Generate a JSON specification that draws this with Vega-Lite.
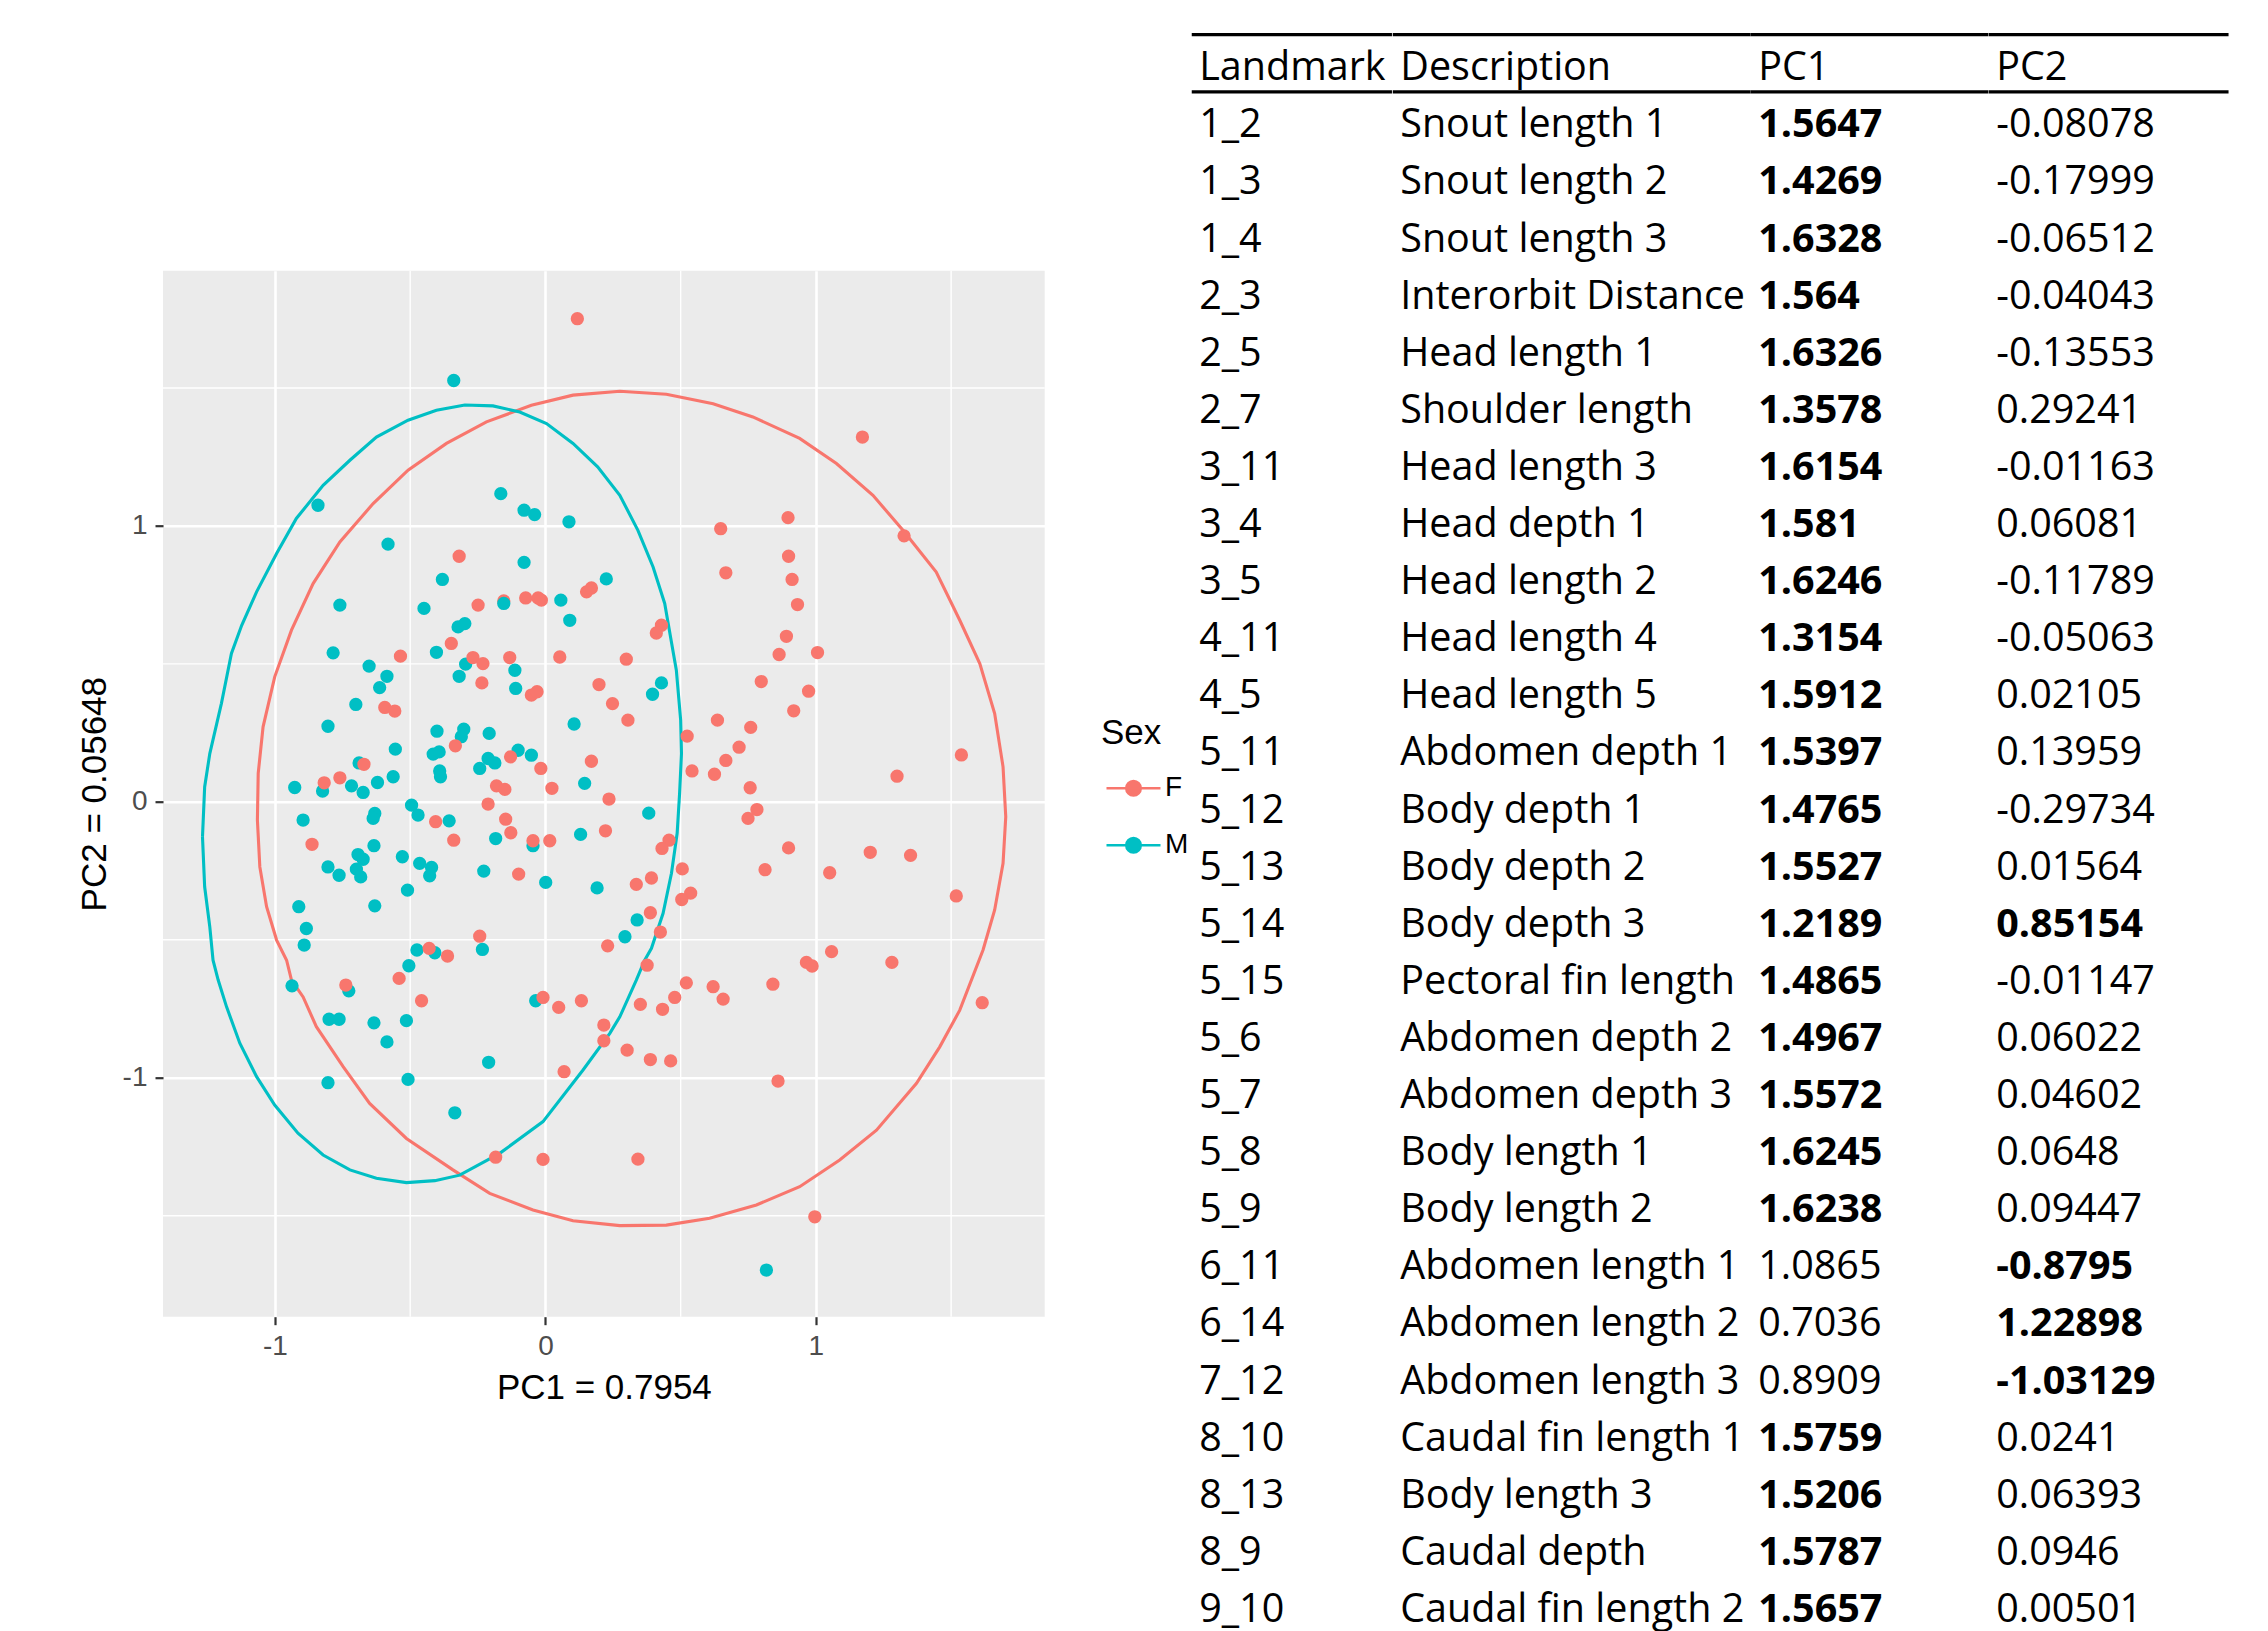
{
"$schema": "https://vega.github.io/schema/vega-lite/v6.json",
"padding": {"left": 77, "top": 32.7, "right": 0, "bottom": 0},
"spacing": 143.75,
"config": {
  "view": {"stroke": null},
  "font": "Liberation Sans",
  "axis": {"grid": true, "gridColor": "white", "gridWidth": 2.6, "domain": false, "tickColor": "#333333", "tickWidth": 2.2, "tickSize": 8, "labelFont": "Liberation Sans", "labelFontSize": 28, "labelColor": "#4D4D4D", "labelPadding": 8, "titleFont": "Liberation Sans", "titleFontSize": 35, "titleFontWeight": "normal", "titleColor": "black"},
  "axisX": {"titlePadding": 10},
  "axisY": {"titlePadding": 10}
},
"datasets": {
  "pts": [
    {"s":"F","x":0.118,"y":1.751},{"s":"F","x":-0.319,"y":0.890},{"s":"F","x":0.152,"y":0.761},{"s":"F","x":0.170,"y":0.775},{"s":"F","x":-0.249,"y":0.713},{"s":"F","x":-0.154,"y":0.728},{"s":"F","x":-0.073,"y":0.739},{"s":"F","x":-0.027,"y":0.739},{"s":"F","x":-0.015,"y":0.731},
    {"s":"F","x":1.172,"y":1.322},{"s":"F","x":0.897,"y":1.030},{"s":"F","x":0.648,"y":0.990},{"s":"F","x":1.326,"y":0.964},{"s":"F","x":0.899,"y":0.890},{"s":"F","x":0.667,"y":0.830},{"s":"F","x":0.912,"y":0.806},{"s":"F","x":0.932,"y":0.715},
    {"s":"F","x":0.429,"y":0.640},{"s":"F","x":0.410,"y":0.612},{"s":"F","x":0.891,"y":0.600},{"s":"F","x":0.864,"y":0.534},{"s":"F","x":1.006,"y":0.541},{"s":"F","x":0.299,"y":0.517},{"s":"F","x":0.798,"y":0.436},{"s":"F","x":0.973,"y":0.401},{"s":"F","x":0.918,"y":0.330},{"s":"F","x":0.248,"y":0.356},{"s":"F","x":0.305,"y":0.296},{"s":"F","x":0.636,"y":0.296},{"s":"F","x":0.759,"y":0.270},{"s":"F","x":0.524,"y":0.238},{"s":"F","x":0.716,"y":0.198},{"s":"F","x":0.667,"y":0.150},{"s":"F","x":0.542,"y":0.112},{"s":"F","x":0.625,"y":0.100},{"s":"F","x":1.538,"y":0.170},{"s":"F","x":1.300,"y":0.093},{"s":"F","x":0.757,"y":0.051},{"s":"F","x":0.235,"y":0.010},{"s":"F","x":0.782,"y":-0.028},{"s":"F","x":0.749,"y":-0.060},{"s":"F","x":0.222,"y":-0.105},{"s":"F","x":0.457,"y":-0.139},{"s":"F","x":0.431,"y":-0.169},{"s":"F","x":0.899,"y":-0.167},{"s":"F","x":1.201,"y":-0.183},{"s":"F","x":1.350,"y":-0.194},{"s":"F","x":0.506,"y":-0.243},{"s":"F","x":0.812,"y":-0.246},{"s":"F","x":1.051,"y":-0.257},{"s":"F","x":0.392,"y":-0.276},{"s":"F","x":0.336,"y":-0.299},{"s":"F","x":0.537,"y":-0.331},{"s":"F","x":0.504,"y":-0.354},{"s":"F","x":1.519,"y":-0.341},{"s":"F","x":0.388,"y":-0.402},{"s":"F","x":0.425,"y":-0.472},{"s":"F","x":0.230,"y":-0.522},{"s":"F","x":0.376,"y":-0.592},{"s":"F","x":1.058,"y":-0.543},{"s":"F","x":0.965,"y":-0.582},{"s":"F","x":0.986,"y":-0.595},{"s":"F","x":1.281,"y":-0.582},
    {"s":"F","x":0.521,"y":-0.656},{"s":"F","x":0.620,"y":-0.670},{"s":"F","x":0.657,"y":-0.715},{"s":"F","x":0.841,"y":-0.661},{"s":"F","x":0.478,"y":-0.709},{"s":"F","x":0.351,"y":-0.734},{"s":"F","x":0.433,"y":-0.752},{"s":"F","x":1.615,"y":-0.728},{"s":"F","x":0.216,"y":-0.809},{"s":"F","x":0.216,"y":-0.866},{"s":"F","x":0.302,"y":-0.900},{"s":"F","x":0.388,"y":-0.934},{"s":"F","x":0.463,"y":-0.939},{"s":"F","x":0.860,"y":-1.012},{"s":"F","x":0.342,"y":-1.295},{"s":"F","x":0.996,"y":-1.504},
    {"s":"M","x":-0.339,"y":1.527},{"s":"M","x":-0.165,"y":1.117},{"s":"M","x":-0.079,"y":1.057},{"s":"M","x":-0.040,"y":1.041},{"s":"M","x":0.087,"y":1.015},{"s":"M","x":-0.841,"y":1.075},{"s":"M","x":-0.582,"y":0.934},{"s":"M","x":-0.079,"y":0.868},{"s":"M","x":-0.381,"y":0.806},{"s":"M","x":0.225,"y":0.808},{"s":"M","x":-0.760,"y":0.713},{"s":"M","x":-0.449,"y":0.701},{"s":"M","x":-0.154,"y":0.719},{"s":"M","x":0.057,"y":0.731},{"s":"M","x":0.090,"y":0.658},{"s":"M","x":-0.323,"y":0.634},{"s":"M","x":-0.298,"y":0.646},
    {"s":"M","x":0.429,"y":0.431},{"s":"M","x":0.396,"y":0.390},{"s":"M","x":0.382,"y":-0.041},{"s":"M","x":0.339,"y":-0.428},{"s":"M","x":0.294,"y":-0.489},{"s":"M","x":0.817,"y":-1.697},
    {"s":"M","x":-0.785,"y":0.540},{"s":"M","x":-0.652,"y":0.492},{"s":"M","x":-0.403,"y":0.542},{"s":"M","x":-0.586,"y":0.455},{"s":"M","x":-0.613,"y":0.414},{"s":"M","x":-0.701,"y":0.353},{"s":"M","x":-0.804,"y":0.274},{"s":"M","x":-0.295,"y":0.499},{"s":"M","x":-0.319,"y":0.455},{"s":"M","x":-0.113,"y":0.477},{"s":"M","x":-0.110,"y":0.411},{"s":"M","x":0.106,"y":0.282},{"s":"M","x":-0.401,"y":0.256},{"s":"M","x":-0.302,"y":0.263},{"s":"M","x":-0.311,"y":0.236},{"s":"M","x":-0.208,"y":0.248},{"s":"M","x":-0.555,"y":0.191},{"s":"M","x":-0.415,"y":0.173},{"s":"M","x":-0.393,"y":0.181},{"s":"M","x":-0.689,"y":0.141},{"s":"M","x":-0.824,"y":0.039},{"s":"M","x":-0.927,"y":0.052},{"s":"M","x":-0.717,"y":0.058},{"s":"M","x":-0.674,"y":0.034},{"s":"M","x":-0.621,"y":0.070},{"s":"M","x":-0.563,"y":0.091},{"s":"M","x":-0.391,"y":0.112},{"s":"M","x":-0.388,"y":0.091},{"s":"M","x":-0.243,"y":0.121},{"s":"M","x":-0.212,"y":0.157},{"s":"M","x":-0.187,"y":0.141},{"s":"M","x":-0.101,"y":0.187},{"s":"M","x":-0.052,"y":0.169},{"s":"M","x":0.145,"y":0.067},{"s":"M","x":-0.495,"y":-0.012},{"s":"M","x":-0.471,"y":-0.048},{"s":"M","x":-0.631,"y":-0.042},{"s":"M","x":-0.637,"y":-0.060},{"s":"M","x":-0.896,"y":-0.066},{"s":"M","x":-0.356,"y":-0.069},{"s":"M","x":-0.184,"y":-0.133},{"s":"M","x":-0.046,"y":-0.159},{"s":"M","x":0.130,"y":-0.118},{"s":"M","x":-0.634,"y":-0.159},{"s":"M","x":-0.693,"y":-0.191},{"s":"M","x":-0.674,"y":-0.208},{"s":"M","x":-0.804,"y":-0.236},{"s":"M","x":-0.763,"y":-0.266},{"s":"M","x":-0.699,"y":-0.244},{"s":"M","x":-0.683,"y":-0.272},{"s":"M","x":-0.529,"y":-0.199},{"s":"M","x":-0.465,"y":-0.223},{"s":"M","x":-0.421,"y":-0.238},{"s":"M","x":-0.428,"y":-0.268},{"s":"M","x":-0.510,"y":-0.320},{"s":"M","x":-0.631,"y":-0.377},{"s":"M","x":-0.228,"y":-0.251},{"s":"M","x":0.001,"y":-0.292},{"s":"M","x":0.191,"y":-0.312},{"s":"M","x":-0.912,"y":-0.380},{"s":"M","x":-0.884,"y":-0.459},{"s":"M","x":-0.892,"y":-0.519},{"s":"M","x":-0.233,"y":-0.535},{"s":"M","x":-0.475,"y":-0.537},{"s":"M","x":-0.409,"y":-0.547},{"s":"M","x":-0.505,"y":-0.594},
    {"s":"M","x":-0.937,"y":-0.667},{"s":"M","x":-0.727,"y":-0.685},{"s":"M","x":-0.800,"y":-0.788},{"s":"M","x":-0.763,"y":-0.788},{"s":"M","x":-0.634,"y":-0.801},{"s":"M","x":-0.514,"y":-0.793},{"s":"M","x":-0.586,"y":-0.870},{"s":"M","x":-0.036,"y":-0.721},{"s":"M","x":-0.210,"y":-0.944},{"s":"M","x":-0.804,"y":-1.018},{"s":"M","x":-0.508,"y":-1.006},{"s":"M","x":-0.335,"y":-1.127},
    {"s":"F","x":-0.536,"y":0.528},{"s":"F","x":-0.348,"y":0.574},{"s":"F","x":-0.594,"y":0.342},{"s":"F","x":-0.557,"y":0.329},{"s":"F","x":-0.268,"y":0.523},{"s":"F","x":-0.231,"y":0.501},{"s":"F","x":-0.235,"y":0.431},{"s":"F","x":-0.132,"y":0.523},{"s":"F","x":-0.052,"y":0.387},{"s":"F","x":-0.031,"y":0.399},{"s":"F","x":0.053,"y":0.525},{"s":"F","x":0.198,"y":0.425},{"s":"F","x":-0.333,"y":0.203},{"s":"F","x":-0.671,"y":0.136},{"s":"F","x":-0.760,"y":0.087},{"s":"F","x":-0.818,"y":0.069},{"s":"F","x":-0.129,"y":0.163},{"s":"F","x":-0.017,"y":0.121},{"s":"F","x":0.170,"y":0.147},{"s":"F","x":-0.181,"y":0.058},{"s":"F","x":-0.150,"y":0.045},{"s":"F","x":0.024,"y":0.049},{"s":"F","x":-0.212,"y":-0.008},{"s":"F","x":-0.147,"y":-0.063},{"s":"F","x":-0.406,"y":-0.072},{"s":"F","x":-0.339,"y":-0.139},{"s":"F","x":-0.128,"y":-0.112},{"s":"F","x":-0.046,"y":-0.141},{"s":"F","x":0.016,"y":-0.141},{"s":"F","x":-0.863,"y":-0.154},{"s":"F","x":-0.099,"y":-0.262},{"s":"F","x":-0.243,"y":-0.487},{"s":"F","x":-0.430,"y":-0.531},{"s":"F","x":-0.362,"y":-0.559},
    {"s":"F","x":-0.738,"y":-0.664},{"s":"F","x":-0.541,"y":-0.640},{"s":"F","x":-0.458,"y":-0.721},{"s":"F","x":-0.009,"y":-0.709},{"s":"F","x":0.049,"y":-0.745},{"s":"F","x":0.133,"y":-0.721},{"s":"F","x":0.069,"y":-0.978},{"s":"F","x":-0.184,"y":-1.288},{"s":"F","x":-0.009,"y":-1.296}
  ],
  "ell": [
    {"s":"F","i":1,"x":-1.065,"y":-0.066},{"s":"F","i":2,"x":-1.062,"y":0.103},{"s":"F","i":3,"x":-1.044,"y":0.272},{"s":"F","i":4,"x":-1.001,"y":0.453},{"s":"F","i":5,"x":-0.939,"y":0.622},{"s":"F","i":6,"x":-0.859,"y":0.791},{"s":"F","i":7,"x":-0.760,"y":0.942},{"s":"F","i":8,"x":-0.637,"y":1.081},{"s":"F","i":9,"x":-0.508,"y":1.202},{"s":"F","i":10,"x":-0.366,"y":1.299},{"s":"F","i":11,"x":-0.218,"y":1.377},{"s":"F","i":12,"x":-0.052,"y":1.437},{"s":"F","i":13,"x":0.102,"y":1.474},{"s":"F","i":14,"x":0.275,"y":1.488},{"s":"F","i":15,"x":0.447,"y":1.477},{"s":"F","i":16,"x":0.620,"y":1.443},{"s":"F","i":17,"x":0.767,"y":1.395},{"s":"F","i":18,"x":0.940,"y":1.317},{"s":"F","i":19,"x":1.076,"y":1.226},{"s":"F","i":20,"x":1.211,"y":1.111},{"s":"F","i":21,"x":1.322,"y":0.984},{"s":"F","i":22,"x":1.445,"y":0.833},{"s":"F","i":23,"x":1.532,"y":0.658},{"s":"F","i":24,"x":1.606,"y":0.501},{"s":"F","i":25,"x":1.661,"y":0.320},{"s":"F","i":26,"x":1.692,"y":0.127},{"s":"F","i":27,"x":1.702,"y":-0.054},{"s":"F","i":28,"x":1.692,"y":-0.223},{"s":"F","i":29,"x":1.661,"y":-0.392},{"s":"F","i":30,"x":1.618,"y":-0.537},{"s":"F","i":31,"x":1.532,"y":-0.755},{"s":"F","i":32,"x":1.458,"y":-0.888},{"s":"F","i":33,"x":1.372,"y":-1.020},{"s":"F","i":34,"x":1.224,"y":-1.190},{"s":"F","i":35,"x":1.088,"y":-1.298},{"s":"F","i":36,"x":0.940,"y":-1.395},{"s":"F","i":37,"x":0.780,"y":-1.461},{"s":"F","i":38,"x":0.607,"y":-1.509},{"s":"F","i":39,"x":0.447,"y":-1.534},{"s":"F","i":40,"x":0.275,"y":-1.536},{"s":"F","i":41,"x":0.102,"y":-1.518},{"s":"F","i":42,"x":-0.046,"y":-1.479},{"s":"F","i":43,"x":-0.206,"y":-1.419},{"s":"F","i":44,"x":-0.342,"y":-1.334},{"s":"F","i":45,"x":-0.514,"y":-1.220},{"s":"F","i":46,"x":-0.650,"y":-1.093},{"s":"F","i":47,"x":-0.748,"y":-0.960},{"s":"F","i":48,"x":-0.847,"y":-0.815},{"s":"F","i":49,"x":-0.896,"y":-0.707},{"s":"F","i":50,"x":-0.939,"y":-0.646},{"s":"F","i":51,"x":-0.957,"y":-0.574},{"s":"F","i":52,"x":-0.994,"y":-0.501},{"s":"F","i":53,"x":-1.031,"y":-0.380},{"s":"F","i":54,"x":-1.056,"y":-0.236},{"s":"F","i":55,"x":-1.065,"y":-0.066},
    {"s":"M","i":1,"x":-1.268,"y":-0.127},{"s":"M","i":2,"x":-1.260,"y":0.054},{"s":"M","i":3,"x":-1.241,"y":0.175},{"s":"M","i":4,"x":-1.198,"y":0.357},{"s":"M","i":5,"x":-1.161,"y":0.538},{"s":"M","i":6,"x":-1.123,"y":0.640},{"s":"M","i":7,"x":-1.068,"y":0.761},{"s":"M","i":8,"x":-0.994,"y":0.900},{"s":"M","i":9,"x":-0.921,"y":1.027},{"s":"M","i":10,"x":-0.822,"y":1.147},{"s":"M","i":11,"x":-0.723,"y":1.238},{"s":"M","i":12,"x":-0.625,"y":1.322},{"s":"M","i":13,"x":-0.508,"y":1.383},{"s":"M","i":14,"x":-0.403,"y":1.419},{"s":"M","i":15,"x":-0.298,"y":1.438},{"s":"M","i":16,"x":-0.194,"y":1.435},{"s":"M","i":17,"x":-0.095,"y":1.413},{"s":"M","i":18,"x":0.004,"y":1.371},{"s":"M","i":19,"x":0.102,"y":1.299},{"s":"M","i":20,"x":0.193,"y":1.214},{"s":"M","i":21,"x":0.275,"y":1.111},{"s":"M","i":22,"x":0.342,"y":0.984},{"s":"M","i":23,"x":0.398,"y":0.851},{"s":"M","i":24,"x":0.441,"y":0.719},{"s":"M","i":25,"x":0.455,"y":0.640},{"s":"M","i":26,"x":0.484,"y":0.477},{"s":"M","i":27,"x":0.500,"y":0.296},{"s":"M","i":28,"x":0.503,"y":0.175},{"s":"M","i":29,"x":0.496,"y":0.030},{"s":"M","i":30,"x":0.487,"y":-0.114},{"s":"M","i":31,"x":0.466,"y":-0.259},{"s":"M","i":32,"x":0.435,"y":-0.404},{"s":"M","i":33,"x":0.392,"y":-0.531},{"s":"M","i":34,"x":0.367,"y":-0.574},{"s":"M","i":35,"x":0.336,"y":-0.646},{"s":"M","i":36,"x":0.275,"y":-0.779},{"s":"M","i":37,"x":0.238,"y":-0.839},{"s":"M","i":38,"x":0.139,"y":-0.972},{"s":"M","i":39,"x":-0.009,"y":-1.159},{"s":"M","i":40,"x":-0.169,"y":-1.274},{"s":"M","i":41,"x":-0.317,"y":-1.353},{"s":"M","i":42,"x":-0.409,"y":-1.373},{"s":"M","i":43,"x":-0.514,"y":-1.380},{"s":"M","i":44,"x":-0.625,"y":-1.364},{"s":"M","i":45,"x":-0.723,"y":-1.334},{"s":"M","i":46,"x":-0.822,"y":-1.280},{"s":"M","i":47,"x":-0.915,"y":-1.201},{"s":"M","i":48,"x":-1.001,"y":-1.099},{"s":"M","i":49,"x":-1.068,"y":-0.996},{"s":"M","i":50,"x":-1.130,"y":-0.875},{"s":"M","i":51,"x":-1.179,"y":-0.743},{"s":"M","i":52,"x":-1.210,"y":-0.646},{"s":"M","i":53,"x":-1.229,"y":-0.574},{"s":"M","i":54,"x":-1.241,"y":-0.453},{"s":"M","i":55,"x":-1.260,"y":-0.308},{"s":"M","i":56,"x":-1.268,"y":-0.127}
  ],
  "table": [
    {"lm":"Landmark","d":"Description","p1":"PC1","p2":"PC2","b1":0,"b2":0},
    {"lm":"1_2","d":"Snout length 1","p1":"1.5647","p2":"-0.08078","b1":1,"b2":0},
    {"lm":"1_3","d":"Snout length 2","p1":"1.4269","p2":"-0.17999","b1":1,"b2":0},
    {"lm":"1_4","d":"Snout length 3","p1":"1.6328","p2":"-0.06512","b1":1,"b2":0},
    {"lm":"2_3","d":"Interorbit Distance","p1":"1.564","p2":"-0.04043","b1":1,"b2":0},
    {"lm":"2_5","d":"Head length 1","p1":"1.6326","p2":"-0.13553","b1":1,"b2":0},
    {"lm":"2_7","d":"Shoulder length","p1":"1.3578","p2":"0.29241","b1":1,"b2":0},
    {"lm":"3_11","d":"Head length 3","p1":"1.6154","p2":"-0.01163","b1":1,"b2":0},
    {"lm":"3_4","d":"Head depth 1","p1":"1.581","p2":"0.06081","b1":1,"b2":0},
    {"lm":"3_5","d":"Head length 2","p1":"1.6246","p2":"-0.11789","b1":1,"b2":0},
    {"lm":"4_11","d":"Head length 4","p1":"1.3154","p2":"-0.05063","b1":1,"b2":0},
    {"lm":"4_5","d":"Head length 5","p1":"1.5912","p2":"0.02105","b1":1,"b2":0},
    {"lm":"5_11","d":"Abdomen depth 1","p1":"1.5397","p2":"0.13959","b1":1,"b2":0},
    {"lm":"5_12","d":"Body depth 1","p1":"1.4765","p2":"-0.29734","b1":1,"b2":0},
    {"lm":"5_13","d":"Body depth 2","p1":"1.5527","p2":"0.01564","b1":1,"b2":0},
    {"lm":"5_14","d":"Body depth 3","p1":"1.2189","p2":"0.85154","b1":1,"b2":1},
    {"lm":"5_15","d":"Pectoral fin length","p1":"1.4865","p2":"-0.01147","b1":1,"b2":0},
    {"lm":"5_6","d":"Abdomen depth 2","p1":"1.4967","p2":"0.06022","b1":1,"b2":0},
    {"lm":"5_7","d":"Abdomen depth 3","p1":"1.5572","p2":"0.04602","b1":1,"b2":0},
    {"lm":"5_8","d":"Body length 1","p1":"1.6245","p2":"0.0648","b1":1,"b2":0},
    {"lm":"5_9","d":"Body length 2","p1":"1.6238","p2":"0.09447","b1":1,"b2":0},
    {"lm":"6_11","d":"Abdomen length 1","p1":"1.0865","p2":"-0.8795","b1":0,"b2":1},
    {"lm":"6_14","d":"Abdomen length 2","p1":"0.7036","p2":"1.22898","b1":0,"b2":1},
    {"lm":"7_12","d":"Abdomen length 3","p1":"0.8909","p2":"-1.03129","b1":0,"b2":1},
    {"lm":"8_10","d":"Caudal fin length 1","p1":"1.5759","p2":"0.0241","b1":1,"b2":0},
    {"lm":"8_13","d":"Body length 3","p1":"1.5206","p2":"0.06393","b1":1,"b2":0},
    {"lm":"8_9","d":"Caudal depth","p1":"1.5787","p2":"0.0946","b1":1,"b2":0},
    {"lm":"9_10","d":"Caudal fin length 2","p1":"1.5657","p2":"0.00501","b1":1,"b2":0}
  ]
},
"hconcat": [
  {
    "bounds": "flush",
    "spacing": 0,
    "vconcat": [
      {"width": 881.7, "height": 236, "data": {"values": []}, "mark": "text"},
      {
        "width": 881.7,
        "height": 1046,
        "view": {"fill": "#EBEBEB", "stroke": null},
        "layer": [
          {"data": {"values": [{"v": -0.5}, {"v": 0.5}, {"v": 1.5}]},
           "mark": {"type": "rule", "color": "white", "strokeWidth": 1.4},
           "encoding": {"x": {"field": "v", "type": "quantitative", "title": "PC1 = 0.7954", "scale": {"domain": [-1.414, 1.846], "nice": false, "zero": false}, "axis": {"values": [-1, 0, 1], "labelExpr": "replace(datum.label, '−', '-')"}}}},
          {"data": {"values": [{"v": -1.5}, {"v": -0.5}, {"v": 0.5}, {"v": 1.5}]},
           "mark": {"type": "rule", "color": "white", "strokeWidth": 1.4},
           "encoding": {"y": {"field": "v", "type": "quantitative", "title": "PC2 = 0.05648", "scale": {"domain": [-1.866, 1.925], "nice": false, "zero": false}, "axis": {"values": [-1, 0, 1], "labelExpr": "replace(datum.label, '−', '-')"}}}},
          {"data": {"name": "ell"},
           "mark": {"type": "line", "strokeWidth": 3.1},
           "encoding": {
             "x": {"field": "x", "type": "quantitative", "title": "PC1 = 0.7954", "scale": {"domain": [-1.414, 1.846], "nice": false, "zero": false}, "axis": {"values": [-1, 0, 1], "labelExpr": "replace(datum.label, '−', '-')"}},
             "y": {"field": "y", "type": "quantitative", "title": "PC2 = 0.05648", "scale": {"domain": [-1.866, 1.925], "nice": false, "zero": false}, "axis": {"values": [-1, 0, 1], "labelExpr": "replace(datum.label, '−', '-')"}},
             "color": {"field": "s", "type": "nominal", "scale": {"domain": ["F", "M"], "range": ["#F8766D", "#00BFC4"]}},
             "order": {"field": "i", "type": "quantitative"}
           }},
          {"data": {"name": "pts"},
           "mark": {"type": "circle", "size": 177, "opacity": 1},
           "encoding": {
             "x": {"field": "x", "type": "quantitative", "title": "PC1 = 0.7954", "scale": {"domain": [-1.414, 1.846], "nice": false, "zero": false}, "axis": {"values": [-1, 0, 1], "labelExpr": "replace(datum.label, '−', '-')"}},
             "y": {"field": "y", "type": "quantitative", "title": "PC2 = 0.05648", "scale": {"domain": [-1.866, 1.925], "nice": false, "zero": false}, "axis": {"values": [-1, 0, 1], "labelExpr": "replace(datum.label, '−', '-')"}},
             "color": {"field": "s", "type": "nominal", "scale": {"domain": ["F", "M"], "range": ["#F8766D", "#00BFC4"]},
               "legend": {"title": "Sex", "orient": "none", "legendX": 938, "legendY": 681, "padding": 0,
                 "titleFont": "Liberation Sans", "titleFontSize": 35, "titleFontWeight": "normal", "titleColor": "black", "titlePadding": 9,
                 "labelFont": "Liberation Sans", "labelFontSize": 28, "labelColor": "black", "labelOffset": 3,
                 "symbolType": "M-1,0H1M-0.27,0A0.27,0.27,0,1,0,0.27,0A0.27,0.27,0,1,0,-0.27,0Z",
                 "symbolSize": 2916, "symbolStrokeWidth": 2.5, "symbolOffset": 4, "rowPadding": 14,
                 "encode": {"symbols": {"update": {"fill": {"scale": "color", "field": "value"}, "stroke": {"scale": "color", "field": "value"}, "opacity": {"value": 1}}}}}}
           }}
        ]
      }
    ]
  },
  {
    "bounds": "flush",
    "spacing": 0,
    "hconcat": [
      {"width": 200.2, "height": 1598.8,
       "layer": [
         {"data": {"name": "table"},
          "mark": {"type": "text", "align": "left", "baseline": "alphabetic", "dx": 7.5, "dy": 17, "font": "Open Sans", "fontSize": 39.5, "color": "black"},
          "encoding": {"y": {"field": "lm", "type": "nominal", "sort": null, "axis": null, "scale": {"type": "band", "paddingInner": 0, "paddingOuter": 0, "domain": ["Landmark","1_2","1_3","1_4","2_3","2_5","2_7","3_11","3_4","3_5","4_11","4_5","5_11","5_12","5_13","5_14","5_15","5_6","5_7","5_8","5_9","6_11","6_14","7_12","8_10","8_13","8_9","9_10"]}},
            "x": {"datum": 0, "type": "quantitative", "axis": null, "scale": {"domain": [0, 1]}},
            "text": {"field": "lm"}}},
         {"data": {"values": [{"lm": "Landmark"}, {"lm": "1_2"}]},
          "mark": {"type": "rule", "color": "black", "strokeWidth": 3.3},
          "encoding": {"y": {"field": "lm", "type": "nominal", "bandPosition": 0, "axis": null, "scale": {"type": "band", "paddingInner": 0, "paddingOuter": 0, "domain": ["Landmark","1_2","1_3","1_4","2_3","2_5","2_7","3_11","3_4","3_5","4_11","4_5","5_11","5_12","5_13","5_14","5_15","5_6","5_7","5_8","5_9","6_11","6_14","7_12","8_10","8_13","8_9","9_10"]}},
            "x": {"datum": 0, "type": "quantitative", "axis": null, "scale": {"domain": [0, 1]}},
            "x2": {"datum": 1}}}
       ]},
      {"width": 357.9, "height": 1598.8,
       "layer": [
         {"data": {"name": "table"},
          "mark": {"type": "text", "align": "left", "baseline": "alphabetic", "dx": 7.5, "dy": 17, "font": "Open Sans", "fontSize": 39.5, "color": "black"},
          "encoding": {"y": {"field": "lm", "type": "nominal", "sort": null, "axis": null, "scale": {"type": "band", "paddingInner": 0, "paddingOuter": 0, "domain": ["Landmark","1_2","1_3","1_4","2_3","2_5","2_7","3_11","3_4","3_5","4_11","4_5","5_11","5_12","5_13","5_14","5_15","5_6","5_7","5_8","5_9","6_11","6_14","7_12","8_10","8_13","8_9","9_10"]}},
            "x": {"datum": 0, "type": "quantitative", "axis": null, "scale": {"domain": [0, 1]}},
            "text": {"field": "d"}}},
         {"data": {"values": [{"lm": "Landmark"}, {"lm": "1_2"}]},
          "mark": {"type": "rule", "color": "black", "strokeWidth": 3.3},
          "encoding": {"y": {"field": "lm", "type": "nominal", "bandPosition": 0, "axis": null, "scale": {"type": "band", "paddingInner": 0, "paddingOuter": 0, "domain": ["Landmark","1_2","1_3","1_4","2_3","2_5","2_7","3_11","3_4","3_5","4_11","4_5","5_11","5_12","5_13","5_14","5_15","5_6","5_7","5_8","5_9","6_11","6_14","7_12","8_10","8_13","8_9","9_10"]}},
            "x": {"datum": 0, "type": "quantitative", "axis": null, "scale": {"domain": [0, 1]}},
            "x2": {"datum": 1}}}
       ]},
      {"width": 237.6, "height": 1598.8,
       "layer": [
         {"data": {"name": "table"},
          "transform": [{"filter": "datum.b1 == 0"}],
          "mark": {"type": "text", "align": "left", "baseline": "alphabetic", "dx": 7.5, "dy": 17, "font": "Open Sans", "fontSize": 39.5, "color": "black"},
          "encoding": {"y": {"field": "lm", "type": "nominal", "sort": null, "axis": null, "scale": {"type": "band", "paddingInner": 0, "paddingOuter": 0, "domain": ["Landmark","1_2","1_3","1_4","2_3","2_5","2_7","3_11","3_4","3_5","4_11","4_5","5_11","5_12","5_13","5_14","5_15","5_6","5_7","5_8","5_9","6_11","6_14","7_12","8_10","8_13","8_9","9_10"]}},
            "x": {"datum": 0, "type": "quantitative", "axis": null, "scale": {"domain": [0, 1]}},
            "text": {"field": "p1"}}},
         {"data": {"name": "table"},
          "transform": [{"filter": "datum.b1 == 1"}],
          "mark": {"type": "text", "align": "left", "baseline": "alphabetic", "dx": 7.5, "dy": 17, "font": "Open Sans", "fontSize": 39.5, "fontWeight": "bold", "color": "black"},
          "encoding": {"y": {"field": "lm", "type": "nominal", "sort": null, "axis": null, "scale": {"type": "band", "paddingInner": 0, "paddingOuter": 0, "domain": ["Landmark","1_2","1_3","1_4","2_3","2_5","2_7","3_11","3_4","3_5","4_11","4_5","5_11","5_12","5_13","5_14","5_15","5_6","5_7","5_8","5_9","6_11","6_14","7_12","8_10","8_13","8_9","9_10"]}},
            "x": {"datum": 0, "type": "quantitative", "axis": null, "scale": {"domain": [0, 1]}},
            "text": {"field": "p1"}}},
         {"data": {"values": [{"lm": "Landmark"}, {"lm": "1_2"}]},
          "mark": {"type": "rule", "color": "black", "strokeWidth": 3.3},
          "encoding": {"y": {"field": "lm", "type": "nominal", "bandPosition": 0, "axis": null, "scale": {"type": "band", "paddingInner": 0, "paddingOuter": 0, "domain": ["Landmark","1_2","1_3","1_4","2_3","2_5","2_7","3_11","3_4","3_5","4_11","4_5","5_11","5_12","5_13","5_14","5_15","5_6","5_7","5_8","5_9","6_11","6_14","7_12","8_10","8_13","8_9","9_10"]}},
            "x": {"datum": 0, "type": "quantitative", "axis": null, "scale": {"domain": [0, 1]}},
            "x2": {"datum": 1}}}
       ]},
      {"width": 239.8, "height": 1598.8,
       "layer": [
         {"data": {"name": "table"},
          "transform": [{"filter": "datum.b2 == 0"}],
          "mark": {"type": "text", "align": "left", "baseline": "alphabetic", "dx": 7.5, "dy": 17, "font": "Open Sans", "fontSize": 39.5, "color": "black"},
          "encoding": {"y": {"field": "lm", "type": "nominal", "sort": null, "axis": null, "scale": {"type": "band", "paddingInner": 0, "paddingOuter": 0, "domain": ["Landmark","1_2","1_3","1_4","2_3","2_5","2_7","3_11","3_4","3_5","4_11","4_5","5_11","5_12","5_13","5_14","5_15","5_6","5_7","5_8","5_9","6_11","6_14","7_12","8_10","8_13","8_9","9_10"]}},
            "x": {"datum": 0, "type": "quantitative", "axis": null, "scale": {"domain": [0, 1]}},
            "text": {"field": "p2"}}},
         {"data": {"name": "table"},
          "transform": [{"filter": "datum.b2 == 1"}],
          "mark": {"type": "text", "align": "left", "baseline": "alphabetic", "dx": 7.5, "dy": 17, "font": "Open Sans", "fontSize": 39.5, "fontWeight": "bold", "color": "black"},
          "encoding": {"y": {"field": "lm", "type": "nominal", "sort": null, "axis": null, "scale": {"type": "band", "paddingInner": 0, "paddingOuter": 0, "domain": ["Landmark","1_2","1_3","1_4","2_3","2_5","2_7","3_11","3_4","3_5","4_11","4_5","5_11","5_12","5_13","5_14","5_15","5_6","5_7","5_8","5_9","6_11","6_14","7_12","8_10","8_13","8_9","9_10"]}},
            "x": {"datum": 0, "type": "quantitative", "axis": null, "scale": {"domain": [0, 1]}},
            "text": {"field": "p2"}}},
         {"data": {"values": [{"lm": "Landmark"}, {"lm": "1_2"}]},
          "mark": {"type": "rule", "color": "black", "strokeWidth": 3.3},
          "encoding": {"y": {"field": "lm", "type": "nominal", "bandPosition": 0, "axis": null, "scale": {"type": "band", "paddingInner": 0, "paddingOuter": 0, "domain": ["Landmark","1_2","1_3","1_4","2_3","2_5","2_7","3_11","3_4","3_5","4_11","4_5","5_11","5_12","5_13","5_14","5_15","5_6","5_7","5_8","5_9","6_11","6_14","7_12","8_10","8_13","8_9","9_10"]}},
            "x": {"datum": 0, "type": "quantitative", "axis": null, "scale": {"domain": [0, 1]}},
            "x2": {"datum": 1}}}
       ]}
    ]
  }
]
}
